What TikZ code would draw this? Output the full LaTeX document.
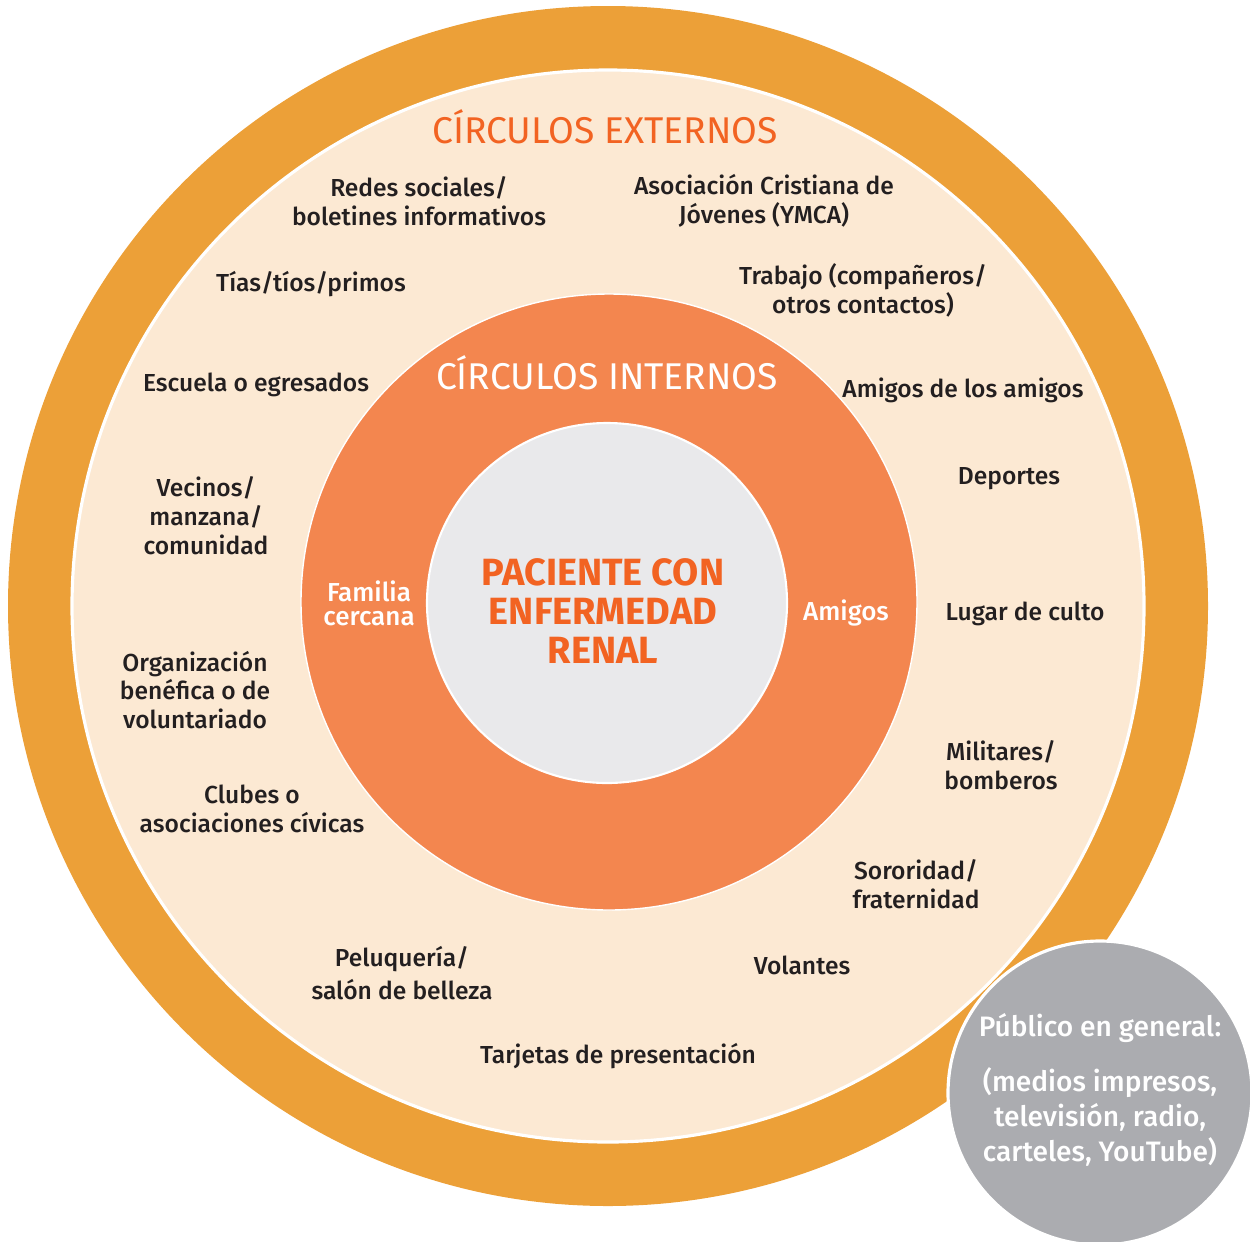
\documentclass[tikz,border=0pt]{standalone}
\usepackage{fontspec}
\setmainfont{Fira Sans}[UprightFont={* Medium}, BoldFont={* Bold}]
\newfontfamily\circlefont{Fira Sans}
\usetikzlibrary{positioning}
\definecolor{ringorange}{RGB}{236,160,56}
\definecolor{cream}{RGB}{252,233,211}
\definecolor{innerorange}{RGB}{243,134,79}
\definecolor{titleorange}{RGB}{242,99,34}
\definecolor{coregrey}{RGB}{233,233,235}
\definecolor{publicgrey}{RGB}{171,172,176}
\definecolor{darktext}{RGB}{35,31,32}

\begin{document}
\begin{tikzpicture}[
    ring/.style={circle, inner sep=0pt, draw=white},
    lbl/.style={align=center, text=darktext, font=\fontsize{7}{8.2}\selectfont},
    wlbl/.style={align=center, text=white, font=\fontsize{7.4}{6.9}\selectfont},
    title/.style={font=\circlefont\fontsize{10.6}{11}\selectfont}
  ]
        \useasboundingbox (0,0) rectangle (12.5,-12.41);

        % rings
        \node[ring, fill=ringorange, draw=none, minimum size=12cm] (outer) at (6.08,-6.06) {};
        \node[ring, fill=cream, line width=0.9pt, minimum size=10.72cm] (externos) at (6.08,-6.06) {};
        \node[ring, fill=innerorange, line width=0.4pt, minimum size=6.16cm] (internos) at (6.09,-6.02) {};
        \node[ring, fill=coregrey, line width=0.6pt, minimum size=3.6cm] (core) at (6.07,-6.03) {};
        \node[ring, fill=publicgrey, line width=0.9pt, minimum size=3.04cm] (publico) at (11.0,-10.93) {};

        % titles
        \node[title, text=titleorange] (tExt) at (6.05,-1.27) {CÍRCULOS EXTERNOS};
        \node[title, text=white] (tInt) at (6.07,-3.73) {CÍRCULOS INTERNOS};
        \node[align=center, text=titleorange, font=\fontsize{10.8}{11}\bfseries\selectfont] (paciente) at (6.03,-6.11)
          {PACIENTE CON\\ENFERMEDAD\\RENAL};

        % inner circle
        \node[wlbl] (familia) at (3.69,-6.03) {Familia\\cercana};
        \node[wlbl] (amigos) at (8.46,-6.13) {Amigos};

        % outer circle
        \node[lbl] (redes) at (4.19,-2.01) {Redes sociales/\\boletines informativos};
        \node[lbl] (ymca) at (7.64,-2.01) {Asociación Cristiana de\\Jóvenes (YMCA)};
        \node[lbl] (tias) at (3.11,-2.84) {Tías/tíos/primos};
        \node[lbl] (trabajo) at (8.63,-2.90) {Trabajo (compañeros/\\otros contactos)};
        \node[lbl] (escuela) at (2.56,-3.85) {Escuela o egresados};
        \node[lbl] (amigos2) at (9.63,-3.90) {Amigos de los amigos};
        \node[lbl] (deportes) at (10.09,-4.79) {Deportes};
        \node[lbl] (vecinos) at (2.06,-5.16) {Vecinos/\\manzana/\\comunidad};
        \node[lbl] (culto) at (10.25,-6.14) {Lugar de culto};
        \node[lbl] (benefica) at (1.95,-6.90) {Organización\\benéfica o de\\voluntariado};
        \node[lbl] (militares) at (10.01,-7.65) {Militares/\\bomberos};
        \node[lbl] (clubes) at (2.52,-8.09) {Clubes o\\asociaciones cívicas};
        \node[lbl] (sororidad) at (9.16,-8.84) {Sororidad/\\fraternidad};
        \node[lbl, font=\fontsize{7}{9.3}\selectfont] (peluqueria) at (4.02,-9.73) {Peluquería/\\salón de belleza};
        \node[lbl] (volantes) at (8.02,-9.65) {Volantes};
        \node[lbl] (tarjetas) at (6.18,-10.56) {Tarjetas de presentación};

        % general public
        \node[align=center, text=white, font=\fontsize{8}{8.2}\selectfont] (pubTitle) at (11.0,-10.28) {Público en general:};
        \node[align=center, text=white, font=\fontsize{8}{10}\selectfont] (pubMedia) at (11.0,-11.17)
          {(medios impresos,\\televisión, radio,\\carteles, YouTube)};
      \end{tikzpicture}
\end{document}
